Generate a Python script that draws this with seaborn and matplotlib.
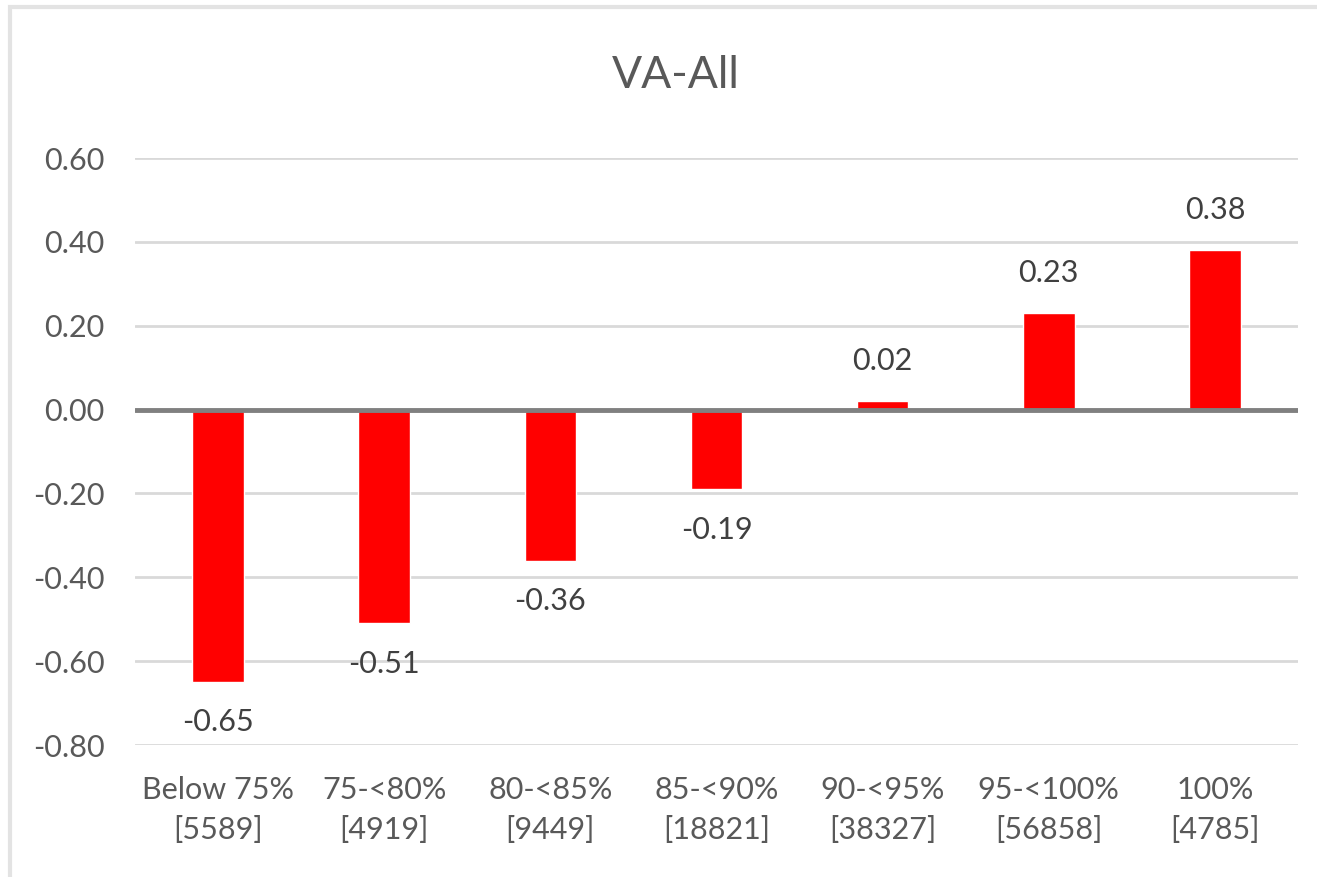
import matplotlib
matplotlib.use("Agg")
import matplotlib.pyplot as plt
import matplotlib.patches as mpatches
import seaborn as sns

categories = ["Below 75%", "75-<80%", "80-<85%", "85-<90%", "90-<95%", "95-<100%", "100%"]
counts = ["5589", "4919", "9449", "18821", "38327", "56858", "4785"]
values = [-0.65, -0.51, -0.36, -0.19, 0.02, 0.23, 0.38]
yticks = [-0.80, -0.60, -0.40, -0.20, 0.00, 0.20, 0.40, 0.60]

sns.set_theme(style="white")
plt.rcParams["font.family"] = ["Lato", "DejaVu Sans"]

fig = plt.figure(figsize=(13.17, 8.77), dpi=100)
ax = fig.add_axes([0.1025, 0.1505, 0.8831, 0.6693])

# chart-area frame like the Excel export
fig.patches.append(mpatches.Rectangle((10 / 1317, -0.05), 1.1, 1 - 7 / 877 + 0.05,
                                      transform=fig.transFigure, fill=False,
                                      edgecolor="#e3e3e3", linewidth=3))

labels = [f"{c}\n[{n}]" for c, n in zip(categories, counts)]
sns.barplot(x=labels, y=values, color="#ff0000", width=0.31, saturation=1,
            ax=ax, zorder=2)

ax.set_ylim(-0.8, 0.6)
ax.set_yticks(yticks)
ax.set_yticklabels([f"{t:.2f}" for t in yticks])
for t in yticks:
    if t != 0:
        ax.axhline(t, color="#d9d9d9", linewidth=2, zorder=1)
ax.axhline(0, color="#808080", linewidth=3.5, zorder=3)

for i, v in enumerate(values):
    off = 29 if v >= 0 else -29
    ax.annotate(f"{v:.2f}", (i, v), xytext=(0, off), textcoords="offset points",
                ha="center", va="center", fontsize=22, color="#404040")

ax.tick_params(axis="y", length=0, pad=22, labelsize=22, labelcolor="#595959")
ax.tick_params(axis="x", length=0, pad=22, labelsize=22, labelcolor="#595959")
for lbl in ax.get_xticklabels():
    lbl.set_linespacing(1.55)
ax.set_xlabel("")
ax.set_ylabel("")
sns.despine(ax=ax, left=True, bottom=True)

fig.text(0.513, 0.914, "VA-All", ha="center", va="center", fontsize=32, color="#595959")

fig.savefig("out.png", dpi=100)
